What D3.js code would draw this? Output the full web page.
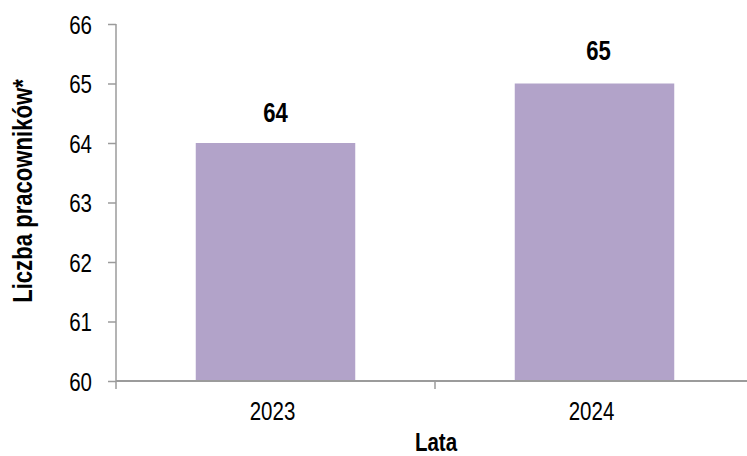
<!DOCTYPE html>
<html><head><meta charset="utf-8">
<script src="https://cdn.jsdelivr.net/npm/d3@7"></script>
<style>
html,body{margin:0;padding:0;background:#fff;}
svg{display:block;}
text{font-family:"Liberation Sans",Arial,sans-serif;fill:#000;}
</style></head>
<body>
<svg id="chart" width="747" height="456"></svg>
<script>
const categories = ["2023", "2024"];
const values = [64, 65];
const yTicks = [60, 61, 62, 63, 64, 65, 66];
const yTitle = "Liczba pracowników*";
const xTitle = "Lata";

(function () {
const svg = d3.select("#chart");
const pLeft = 116, pRight = 754, pTop = 24, pBottom = 381;
const axisColor = "#9b9b9b";
const narrow = 0.82; // emulate Arial Narrow

const x = d3.scaleBand().domain(categories).range([pLeft, pRight]).paddingInner(0.5).paddingOuter(0.25);
const y = d3.scaleLinear().domain([60, 66]).range([pBottom, pTop]);

// bars
svg.append("g").selectAll("rect").data(values).join("rect")
  .attr("x", (d, i) => x(categories[i]))
  .attr("y", d => y(d))
  .attr("width", x.bandwidth())
  .attr("height", d => y(60) - y(d))
  .attr("fill", "#B2A3C9");

// y axis
const yAxis = svg.append("g").attr("transform", `translate(${pLeft},0)`)
  .call(d3.axisLeft(y).tickValues(yTicks).tickSize(8).tickPadding(16).tickFormat(d3.format("d")));
yAxis.select(".domain").attr("stroke", axisColor).attr("stroke-width", 1.5)
  .attr("d", `M0,${pTop}H0V${pBottom + 8}`);
yAxis.selectAll(".tick line").attr("stroke", axisColor).attr("stroke-width", 1.5);
yAxis.selectAll(".tick text").style("font-size", "25px").attr("dy", "0.36em")
  .attr("x", 0).attr("transform", `translate(-24,0) scale(${narrow},1)`);

// x axis line
svg.append("line").attr("x1", pLeft).attr("x2", 747).attr("y1", pBottom).attr("y2", pBottom)
  .attr("stroke", axisColor).attr("stroke-width", 2);
// category boundary ticks
const boundaries = d3.range(1, categories.length).map(i => pLeft + i * x.step());
svg.append("g").selectAll("line").data(boundaries).join("line")
  .attr("x1", d => d).attr("x2", d => d).attr("y1", pBottom).attr("y2", pBottom + 8)
  .attr("stroke", axisColor).attr("stroke-width", 1.5);
// category labels
svg.append("g").selectAll("text").data(categories).join("text")
  .attr("transform", d => `translate(${x(d) + x.bandwidth() / 2 - 3},${pBottom + 39}) scale(${narrow},1)`)
  .attr("text-anchor", "middle")
  .style("font-size", "25px")
  .text(d => d);

// value labels
svg.append("g").selectAll("text").data(values).join("text")
  .attr("transform", (d, i) => `translate(${x(categories[i]) + x.bandwidth() / 2 + 4 * i},${y(d) - 21 - 3 * i}) scale(${narrow},1)`)
  .attr("text-anchor", "middle")
  .style("font-size", "27px").style("font-weight", "bold")
  .text(d => d);

// axis titles
svg.append("text").attr("transform", `translate(436,451) scale(${narrow},1)`)
  .attr("text-anchor", "middle").style("font-size", "25px").style("font-weight", "bold").text(xTitle);
svg.append("text").attr("transform", `translate(32,191) rotate(-90) scale(${narrow},1)`)
  .attr("text-anchor", "middle").style("font-size", "27px").style("font-weight", "bold").text(yTitle);
})();
</script>
</body></html>
